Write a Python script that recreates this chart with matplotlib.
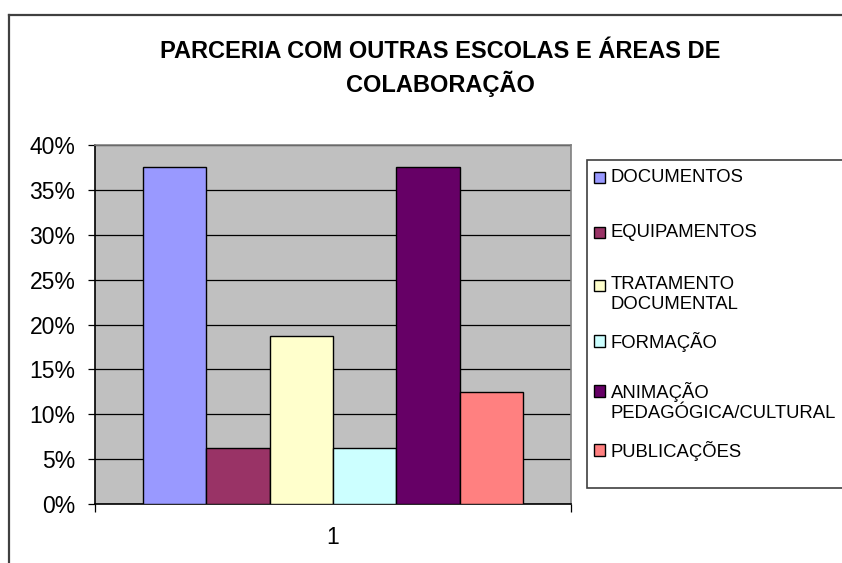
import matplotlib.pyplot as plt
from matplotlib.patches import Rectangle
from matplotlib.lines import Line2D
from matplotlib.ticker import PercentFormatter

# data
categories = ["DOCUMENTOS", "EQUIPAMENTOS", "TRATAMENTO\nDOCUMENTAL", "FORMAÇÃO",
              "ANIMAÇÃO\nPEDAGÓGICA/CULTURAL", "PUBLICAÇÕES"]
values = [37.5, 6.25, 18.75, 6.25, 37.5, 12.5]
colors = ["#9999FF", "#993366", "#FFFFCC", "#CCFFFF", "#660066", "#FF8080"]
group_labels = ["1"]
y_ticks = [0, 5, 10, 15, 20, 25, 30, 35, 40]

plt.rcParams['font.family'] = ['Liberation Sans', 'DejaVu Sans']

W, H = 842, 563
fig = plt.figure(figsize=(W / 100, H / 100), dpi=100)


def fx(x):
    return x / W


def fy(y):
    return 1 - y / H


# outer chart frame (runs off the right and bottom edges)
fig.add_artist(Line2D([fx(8.5), fx(8.5)], [fy(14.5), fy(H + 5)], color="#404040", lw=1.6))
fig.add_artist(Line2D([fx(8.5), fx(W + 5)], [fy(14.5), fy(14.5)], color="#404040", lw=1.6))

fig.text(fx(440), fy(51), "PARCERIA COM OUTRAS ESCOLAS E ÁREAS DE", ha="center", va="center",
         fontsize=17, fontweight="bold")
fig.text(fx(440), fy(84), "COLABORAÇÃO", ha="center", va="center",
         fontsize=17, fontweight="bold")

ax = fig.add_axes([fx(95), fy(504), fx(571) - fx(95), fy(145) - fy(504)])
ax.set_facecolor("#C0C0C0")

bar_w = 0.1334
n = len(values)
for i, (v, c) in enumerate(zip(values, colors)):
    ax.bar((i - (n - 1) / 2) * bar_w, v, width=bar_w, color=c, edgecolor="black",
           linewidth=1.0, zorder=3)

ax.set_xlim(-0.5, 0.5)
ax.set_ylim(0, 40)
ax.set_yticks(y_ticks)
ax.yaxis.set_major_formatter(PercentFormatter(decimals=0))
ax.yaxis.grid(True, color="black", linewidth=0.9, zorder=1)
ax.tick_params(axis="y", length=5, width=0.9, labelsize=16.5, pad=9)

ax.set_xticks([0])
ax.set_xticklabels(group_labels)
ax.set_xticks([-0.5, 0.5], minor=True)
ax.tick_params(axis="x", which="major", length=0, labelsize=16.5, pad=16)
ax.tick_params(axis="x", which="minor", length=6, width=0.9)

for s in ["top", "right"]:
    ax.spines[s].set_color("#808080")
    ax.spines[s].set_linewidth(1.2)
for s in ["left", "bottom"]:
    ax.spines[s].set_color("black")
    ax.spines[s].set_linewidth(1.2)

# legend box
fig.add_artist(Rectangle((fx(587), fy(488)), fx(W + 10) - fx(587), fy(160) - fy(488),
                         transform=fig.transFigure, facecolor="white",
                         edgecolor="#404040", linewidth=1.2))
legend_y = [176, 230.5, 283, 339, 389, 448]
for lab, c, y in zip(categories, colors, legend_y):
    fig.add_artist(Rectangle((fx(594), fy(y + 7.5)), fx(605) - fx(594), fy(y - 3.5) - fy(y + 7.5),
                             transform=fig.transFigure, facecolor=c,
                             edgecolor="black", linewidth=1.0))
    fig.text(fx(611), fy(y - 7), lab, ha="left", va="top", fontsize=13.3,
             linespacing=1.2)

fig.savefig("out.png", dpi=100)
